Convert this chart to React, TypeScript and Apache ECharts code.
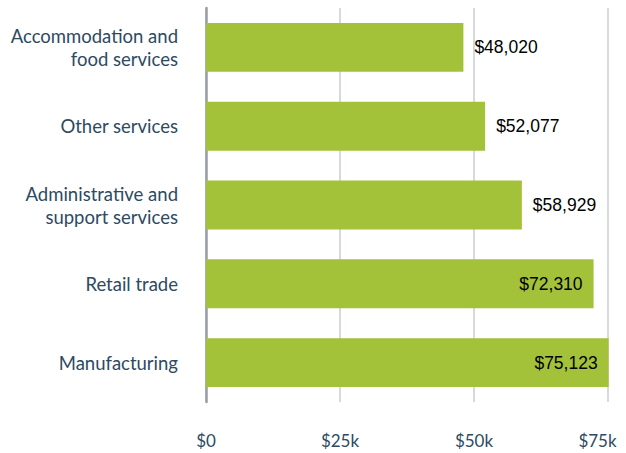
import React, { useEffect, useRef } from "react";
import * as echarts from "echarts";

const categories = [
  "Accommodation and\nfood services",
  "Other services",
  "Administrative and\nsupport services",
  "Retail trade",
  "Manufacturing",
];
const values = [48020, 52077, 58929, 72310, 75123];
const insideFlags = [false, false, false, true, true];
const tickLabels: Record<number, string> = { 0: "$0", 25000: "$25k", 50000: "$50k", 75000: "$75k" };

const fmt = (v: number) => "$" + v.toLocaleString("en-US");

export default function App() {
  const ref = useRef<HTMLDivElement>(null);
  useEffect(() => {
    if (!ref.current) return;
    const chart = echarts.init(ref.current, undefined, { renderer: "svg" });
    const textColor = "#2d4a62";
    chart.setOption({
      animation: false,
      grid: { left: 206, right: 18, top: 8, bottom: 51, containLabel: false },
      xAxis: {
        type: "value",
        min: 0,
        max: 75000,
        interval: 25000,
        axisLine: { show: false },
        axisTick: { show: false },
        splitLine: { show: true, lineStyle: { color: "#c9ced4", width: 1.5 } },
        axisLabel: {
          color: textColor,
          fontSize: 17,
          fontFamily: "Lato",
          margin: 30,
          formatter: (v: number) => (v === 75000 ? "{r|" + tickLabels[v] + "}" : tickLabels[v] ?? ""),
          rich: {
            r: { color: textColor, fontSize: 17, fontFamily: "Lato", padding: [0, 21, 0, 0] },
          },
        },
      },
      yAxis: {
        type: "category",
        inverse: true,
        data: categories,
        axisLine: { show: true, lineStyle: { color: "#9a9ea4", width: 2.5 } },
        axisTick: { show: false },
        axisLabel: {
          color: textColor,
          fontSize: 18.5,
          fontFamily: "Lato",
          lineHeight: 23,
          margin: 28,
          align: "right",
        },
      },
      series: [
        {
          type: "bar",
          clip: false,
          barWidth: "62%",
          itemStyle: { color: "#a3c23a" },
          data: values.map((v, i) => ({
            value: v,
            label: {
              show: true,
              position: insideFlags[i] ? "insideRight" : "right",
              distance: insideFlags[i] ? 11 : 11,
              formatter: () => fmt(v),
              color: "#000",
              fontSize: 17.5,
              fontFamily: "Liberation Sans",
            },
          })),
        },
      ],
    });
    return () => chart.dispose();
  }, []);
  return <div ref={ref} style={{ width: 626, height: 453, position: "absolute", left: 0, top: 0 }} />;
}
